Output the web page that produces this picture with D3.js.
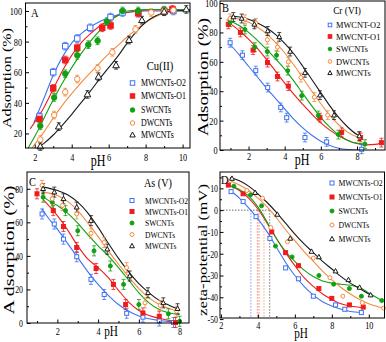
<!DOCTYPE html>
<html>
<head>
<meta charset="utf-8">
<script src="https://cdn.jsdelivr.net/npm/d3@7"></script>
<style>
  body { margin: 0; background: #fff; }
  svg { display: block; }
</style>
</head>
<body>
<script>
const W = 386, H = 342;

const seriesNames = ["MWCNTs-O2", "MWCNTs-O1", "SWCNTs", "DWCNTs", "MWCNTs"];
const seriesNamesCr = ["MWCNT-O2", "MWCNT-O1", "SWCNTs", "DWCNTs", "MWCNTs"];
const colors = ["#3f72f2", "#ef1c1c", "#12a012", "#f58a3f", "#1a1a1a"];
const shapes = ["squareOpen", "squareFill", "circleFill", "circleOpen", "triangle"];

// A: Cu(II) adsorption, [pH, %]
const cuPoints = [
  [[2.25,31],[3.0,60],[3.65,77],[4.3,82],[5.0,89],[6.1,96],[6.75,99],[7.6,99],[9.0,100],[9.5,100]],
  [[2.25,29.5],[3.0,49.5],[3.65,68],[4.3,76],[5.65,89],[6.1,90.5],[7.6,98.5],[9.0,100],[9.45,101]],
  [[2.3,25],[3.05,43.5],[3.65,59],[4.3,71],[4.9,78],[5.4,80.5],[5.9,93],[6.75,100],[7.6,100],[9.0,100.5]],
  [[2.3,16],[3.05,32],[3.65,47],[4.3,55.5],[5.4,62.5],[6.2,73],[7.45,88],[8.3,99],[9.0,100],[9.5,100.5]],
  [[2.3,11.5],[3.3,24.5],[4.85,45.5],[5.45,57],[6.4,64.5],[7.1,81],[7.8,94],[9.0,99.5],[10.2,101]]
];
const cuFits = [
  [[1.95,27],[2.5,43],[3,58],[3.5,70],[4,79],[4.5,85],[5,89.5],[5.5,93],[6,95.5],[6.5,97.5],[7,99],[8,100],[10.4,100]],
  [[1.75,23],[2.5,37],[3,49],[3.5,61],[4,71],[4.5,79],[5,85],[5.5,90],[6,94],[6.5,97],[7,99],[8,100.5],[10.4,101]],
  [[1.64,10.5],[2,18],[2.5,30],[3,42],[3.5,53],[4,63],[4.5,72],[5,80],[5.5,87],[6,93],[6.5,97],[7,100],[8,101],[10.4,101]],
  [[1.85,10.5],[2.5,21],[3,30],[3.5,38.5],[4,46],[4.5,53],[5,59.5],[5.5,66],[6,72],[6.5,77.5],[7,83],[7.5,88],[8,92.5],[8.5,96],[9,98.5],[9.5,100],[10.4,100.5]],
  [[2.15,10.5],[2.5,13.5],[3,19],[3.5,25.5],[4,32.5],[4.5,40],[5,47.5],[5.5,55.5],[6,63],[6.5,70.5],[7,79],[7.5,86.5],[8,92.5],[8.5,96.5],[9,99],[9.5,100],[10.4,100.5]]
];

// B: Cr(VI) adsorption
const crPoints = [
  [[0.98,73],[1.66,64.5],[2.4,54],[3.06,42.5],[3.78,29],[4.11,22],[5.12,8.5],[6.32,5.5],[8.26,0.5]],
  [[0.88,85.5],[1.55,80],[2.25,68],[3.05,59.5],[3.6,50],[4.2,43.5],[5.95,22],[7.15,12],[8.2,8.5],[9.35,5]],
  [[0.98,87],[1.8,82],[2.35,70],[3.04,67],[3.55,64.5],[4.17,54],[4.94,37],[5.86,23.5],[6.97,10.5],[8.44,4]],
  [[0.98,89.5],[1.8,89],[2.4,86.5],[3.04,75],[3.6,70],[4.2,60],[4.9,49.3],[5.64,36],[6.38,23.7],[8.13,9]],
  [[1.16,90.5],[1.62,89.5],[2.32,85.5],[3.06,81],[3.7,77],[4.3,67],[5.12,52.5],[5.95,37.3],[6.73,23.7],[8.13,9.5]]
];
const crFits = [
  [[0.9,73],[1.5,64.5],[2,57],[2.5,49.5],[3,42],[3.5,35],[4,28],[4.5,21],[5,15],[5.5,10],[6,6],[6.5,3],[7,1.2],[7.5,0.3],[8,0],[8.4,0]],
  [[0.88,87],[1.5,81],[2,75.5],[2.5,69],[3,61.5],[3.5,53.5],[4,45.5],[4.5,38],[5,31],[5.5,24.5],[6,18.5],[6.5,13.5],[7,9.5],[7.5,6.5],[8,4.5],[8.5,3.5],[9,3.8],[9.3,4.5]],
  [[0.98,88],[1.5,84.5],[2,80],[2.5,74.5],[3,68.5],[3.5,62],[4,55],[4.5,47],[5,38.5],[5.5,30],[6,22],[6.5,15.5],[7,10],[7.5,6.5],[8,4.5],[8.5,3.8]],
  [[0.9,90.5],[1.5,89],[2,87],[2.5,83.5],[3,79],[3.5,73],[4,66],[4.5,58],[5,49],[5.5,40],[6,31.5],[6.5,23.5],[7,17],[7.5,12],[8,9],[8.2,8.5]],
  [[1.0,91],[1.5,90.5],[2,89],[2.5,86.5],[3,83],[3.5,78.5],[4,72.5],[4.5,65.5],[5,57],[5.5,48],[6,39],[6.5,30],[7,22],[7.5,15.5],[8,10.5],[8.15,9.5]]
];

// C: As(V) adsorption
const asPoints = [
  [[1.25,65],[1.85,59],[2.3,50],[2.95,39.5],[3.65,26],[4.3,17],[5.4,5.8],[6.2,3.5],[7.0,1.2],[7.7,0.3]],
  [[1.0,77],[1.8,67],[2.3,57.5],[2.95,45],[3.9,32.5],[4.75,23],[5.35,11],[6.2,6],[7.0,4],[7.8,0.3]],
  [[1.3,75],[1.75,72],[2.4,67],[3.0,55],[3.8,43],[4.6,34],[5.25,23],[6.0,11],[7.45,5.5],[8.0,1]],
  [[1.25,82],[1.75,74],[2.25,70],[2.95,65],[3.65,53.5],[4.3,48],[5.4,33],[6.3,12],[7.05,10.5],[7.85,7]],
  [[1.3,80],[1.85,78],[2.3,74],[2.95,69],[3.65,61],[4.45,44],[5.55,28],[6.45,18],[7.2,12],[7.9,8.5]]
];
const asFits = [
  [[1.25,68],[1.5,63.5],[2,56],[2.5,47.5],[3,39],[3.5,30.5],[4,23],[4.5,16.5],[5,11],[5.5,7],[6,4.2],[6.5,2.5],[7,1.5],[7.5,0.8],[7.8,0.5]],
  [[1.3,73.5],[1.5,71],[2,64],[2.5,55.5],[3,46],[3.5,38],[4,33],[4.5,27],[5,19.5],[5.5,12.5],[6,7.5],[6.5,4.5],[7,2.8],[7.5,1.5],[7.9,0.8]],
  [[1.3,75.5],[1.5,73.5],[2,70],[2.5,65.5],[3,59.5],[3.5,52.5],[4,46],[4.5,40],[5,33],[5.5,25.5],[6,18],[6.5,12],[7,8],[7.5,6],[8,5]],
  [[1.3,78],[2,76],[2.5,72.5],[3,67],[3.5,59.5],[4,51.5],[4.5,43],[5,35],[5.5,27.5],[6,20.5],[6.5,15],[7,11],[7.5,8.5],[7.9,7]],
  [[1.3,81],[2,79],[2.5,76.5],[3,72],[3.5,65.5],[4,57],[4.5,47.5],[5,38.5],[5.5,30.5],[6,23.5],[6.5,18],[7,13.5],[7.5,10.5],[7.9,8.5]]
];

// D: zeta potential, [pH, mV]
const zetaPoints = [
  [[2.55,8.5],[3.2,4],[3.9,-3],[4.65,-13],[5.5,-26.5],[6.2,-31.5],[7.0,-39.5],[8.2,-43.5],[8.7,-45.5],[9.6,-47]],
  [[2.4,11.5],[3.2,7.5],[4.75,-10],[5.5,-19.5],[6.2,-25.5],[7.3,-36],[8.0,-40.5],[8.95,-43.5],[9.7,-44.5]],
  [[2.7,11],[3.6,7],[4.2,2],[4.95,-16.5],[5.85,-21.5],[7.3,-30],[8.1,-34],[8.95,-36],[9.6,-39.5],[10.7,-41.5]],
  [[2.5,13.5],[3.4,9],[4.25,5.5],[4.7,-8],[5.6,-14.5],[7.0,-22],[7.9,-31],[8.6,-39.5],[9.65,-42.5],[10.8,-45]],
  [[2.6,14.5],[3.85,8],[5.05,-2],[5.75,-13],[6.9,-19],[7.3,-21.5],[8.2,-28],[8.9,-32],[9.5,-35.5],[10.1,-39]]
];
const zetaFits = [
  [[2.5,9],[3,5.5],[3.5,1],[4,-4],[4.5,-10],[5,-17],[5.5,-24],[6,-30],[6.5,-35],[7,-39],[7.5,-42],[8,-44],[8.5,-45.5],[9,-46.5],[9.6,-47]],
  [[2.4,11.5],[3,9],[3.5,5.5],[4,0.5],[4.5,-6],[5,-13],[5.5,-19.5],[6,-25.5],[6.5,-31],[7,-35],[7.5,-38.5],[8,-41],[8.5,-43],[9,-44],[9.7,-44.8]],
  [[2.6,11],[3,9.5],[3.5,6.5],[4,1.5],[4.5,-5.5],[5,-13],[5.5,-19],[6,-23.5],[6.5,-27.5],[7,-30.5],[7.5,-32.5],[8,-33.5],[8.5,-34],[9,-34.5],[9.5,-35.5],[10,-38],[10.7,-41.5]],
  [[2.5,13.5],[3,11.5],[3.5,9],[4,5.5],[4.5,1.5],[5,-3.5],[5.5,-9],[6,-14],[6.5,-19],[7,-23.5],[7.5,-28],[8,-32],[8.5,-35.5],[9,-38.5],[9.5,-41],[10,-43],[10.8,-45]],
  [[2.5,15],[3,13.5],[3.5,11],[4,7.5],[4.5,3.5],[5,-1],[5.5,-6],[6,-11],[6.5,-15.5],[7,-19.5],[7.5,-23.5],[8,-27],[8.5,-30.5],[9,-33.5],[9.5,-36],[10,-38.5],[10.2,-39.5]]
];
// isoelectric points (dotted guide lines)
const zetaIEP = [3.62, 3.97, 4.06, 4.33, 4.64];
const iepColors = ["#7f9cf3", "#f08a8a", "#f09070", "#f5a670", "#777"];

const FONT = "'Liberation Serif', 'Times New Roman', serif";

const svg = d3.select("body").append("svg")
    .attr("width", W)
    .attr("height", H)
    .style("font-family", FONT);

function txt(g, x, y, s, size, anchor, sx) {
    return g.append("text")
        .attr("transform", `translate(${x},${y}) scale(${sx},1)`)
        .attr("text-anchor", anchor)
        .style("font-size", size + "px")
        .text(s);
}

function vtxt(g, x, y, s, size, len) {
    return g.append("text")
        .attr("transform", `translate(${x},${y}) rotate(-90)`)
        .attr("text-anchor", "middle")
        .attr("textLength", len)
        .attr("lengthAdjust", "spacingAndGlyphs")
        .style("font-size", size + "px")
        .text(s);
}

function marker(g, shape, cx, cy, s, c) {
    if (shape === "squareOpen" || shape === "squareFill") {
        g.append("rect")
            .attr("x", cx - s / 2).attr("y", cy - s / 2)
            .attr("width", s).attr("height", s)
            .attr("fill", shape === "squareFill" ? c : "#fff")
            .attr("stroke", c).attr("stroke-width", 1);
    } else if (shape === "circleFill" || shape === "circleOpen") {
        g.append("circle")
            .attr("cx", cx).attr("cy", cy).attr("r", s / 2)
            .attr("fill", shape === "circleFill" ? c : "#fff")
            .attr("stroke", c).attr("stroke-width", 1);
    } else {
        const h = s * 1.1;
        g.append("path")
            .attr("d", `M${cx},${cy - h * 0.6}L${cx + h * 0.55},${cy + h * 0.4}L${cx - h * 0.55},${cy + h * 0.4}Z`)
            .attr("fill", "#fff")
            .attr("stroke", c).attr("stroke-width", 1);
    }
}

function drawPanel(p) {
    const [x0, x1, y0, y1] = p.box;
    const x = d3.scaleLinear().domain(p.xd).range([x0, x1]);
    const y = d3.scaleLinear().domain(p.yd).range([y1, y0]);
    const g = svg.append("g");

    g.append("clipPath").attr("id", "clip" + p.id)
        .append("rect")
        .attr("x", x0).attr("y", y0)
        .attr("width", x1 - x0).attr("height", y1 - y0);

    if (p.extra) p.extra(g, x, y);

    const line = d3.line()
        .x(d => x(d[0]))
        .y(d => y(d[1]))
        .curve(d3.curveMonotoneX);

    g.append("g")
        .attr("clip-path", `url(#clip${p.id})`)
        .selectAll("path")
        .data(p.fits)
        .join("path")
        .attr("d", line)
        .attr("fill", "none")
        .attr("stroke", (d, i) => colors[i])
        .attr("stroke-width", 1.1);

    // error bars
    if (p.err) {
        p.pts.forEach((s, i) => s.forEach(d => {
            const xx = x(d[0]), ya = y(d[1] - p.err), yb = y(d[1] + p.err);
            g.append("path")
                .attr("d", `M${xx},${ya}V${yb}M${xx - 2},${ya}H${xx + 2}M${xx - 2},${yb}H${xx + 2}`)
                .attr("stroke", colors[i]).attr("stroke-width", 0.8).attr("fill", "none");
        }));
    }

    p.pts.forEach((s, i) => s.forEach(d => marker(g, shapes[i], x(d[0]), y(d[1]), p.ms, colors[i])));

    // frame
    g.append("rect")
        .attr("x", x0).attr("y", y0)
        .attr("width", x1 - x0).attr("height", y1 - y0)
        .attr("fill", "none").attr("stroke", "#000").attr("stroke-width", 1);

    // x axis
    const xa = g.append("g")
        .attr("transform", `translate(0,${y1})`)
        .call(d3.axisBottom(x).tickValues(p.xt).tickSize(-3.5).tickFormat(d => String(d)));
    xa.select(".domain").remove();
    xa.attr("font-family", null).attr("font-size", null);
    xa.selectAll("text")
        .attr("y", p.xBase).attr("dy", null)
        .attr("transform", "scale(0.75,1)")
        .attr("fill", "#000")
        .style("font-size", p.xFont + "px");
    const xm = g.append("g")
        .attr("transform", `translate(0,${y1})`)
        .call(d3.axisBottom(x).tickValues(p.xm).tickSize(-2).tickFormat(""));
    xm.select(".domain").remove();

    // y axis
    const ya = g.append("g")
        .attr("transform", `translate(${x0},0)`)
        .call(d3.axisLeft(y).tickValues(p.yt).tickSize(-3.5).tickFormat(d => String(d)));
    ya.select(".domain").remove();
    ya.attr("font-family", null).attr("font-size", null);
    ya.selectAll("text")
        .attr("x", -p.yPad / 0.75)
        .attr("transform", "scale(0.75,1)")
        .attr("fill", "#000")
        .style("font-size", p.yFont + "px");
    const ym = g.append("g")
        .attr("transform", `translate(${x0},0)`)
        .call(d3.axisLeft(y).tickValues(p.ym).tickSize(-2).tickFormat(""));
    ym.select(".domain").remove();

    // texts
    txt(g, p.letter[0], p.letter[1], p.id, 13, "start", 0.8);
    txt(g, p.ph[0], p.ph[1], "pH", p.ph[2], "middle", 0.75);
    vtxt(g, p.ylab[0], p.ylab[1], p.ylab[4], p.ylab[2], p.ylab[3]);
    if (p.title) txt(g, p.title[0], p.title[1], p.title[3], p.title[2], "middle", 0.85);

    // legend
    const L = p.legend;
    L.ys.forEach((ly, i) => {
        marker(g, shapes[i], L.mx, ly, L.ms, colors[i]);
        txt(g, L.tx, ly + 3.2, L.names[i], L.fs, "start", L.sx);
    });
}

drawPanel({
    id: "A", box: [25.5, 190, 3, 148], xd: [1.5, 10.4], yd: [10.5, 105.2],
    xt: [2, 4, 6, 8, 10], xm: [3, 5, 7, 9], yt: [20, 40, 60, 80, 100], ym: [30, 50, 70, 90],
    pts: cuPoints, fits: cuFits, err: 2.5, ms: 5.5,
    xBase: 13, xFont: 11, yPad: 3.5, yFont: 11,
    letter: [31, 17], ph: [98, 166, 16], ylab: [10.5, 78, 12, 100, "Adsorption (%)"],
    title: [160, 70, 12.5, "Cu(II)"],
    legend: { ys: [83, 96, 110, 123, 135], mx: 132.5, tx: 141, fs: 9.5, sx: 0.83, ms: 4.5, names: seriesNames }
});

drawPanel({
    id: "B", box: [220, 385, 1, 150], xd: [0.42, 9.55], yd: [0, 101.4],
    xt: [2, 4, 6, 8], xm: [1, 3, 5, 7, 9], yt: [0, 20, 40, 60, 80, 100], ym: [10, 30, 50, 70, 90],
    pts: crPoints, fits: crFits, err: 3, ms: 4,
    xBase: 10, xFont: 11, yPad: 2.5, yFont: 11,
    letter: [222, 12], ph: [302, 165, 16], ylab: [208, 77, 14, 118, "Adsorption (%)"],
    title: [347, 14, 11, "Cr (VI)"],
    legend: { ys: [25, 36.5, 49, 61.5, 73], mx: 330, tx: 336, fs: 9, sx: 0.93, ms: 3.6, names: seriesNamesCr }
});

drawPanel({
    id: "C", box: [27, 189, 172, 323], xd: [0.51, 8.46], yd: [0, 90],
    xt: [2, 4, 6, 8], xm: [1, 3, 5, 7], yt: [0, 20, 40, 60, 80], ym: [10, 30, 50, 70],
    pts: asPoints, fits: asFits, err: 3, ms: 4,
    xBase: 12, xFont: 11, yPad: 4, yFont: 10.5,
    letter: [29, 186], ph: [111, 336, 15], ylab: [14, 250, 14, 129, "A dsorption (%)"],
    title: [158, 187, 12, "As (V)"],
    legend: { ys: [200.5, 211.5, 223, 234.5, 246], mx: 132, tx: 145, fs: 9, sx: 0.84, ms: 4, names: seriesNames }
});

drawPanel({
    id: "D", box: [220, 384.5, 172, 318], xd: [1.95, 10.85], yd: [-49.5, 17.5],
    xt: [2, 4, 6, 8, 10], xm: [3, 5, 7, 9], yt: [10, 0, -10, -20, -30, -40, -50], ym: [15, 5, -5, -15, -25, -35, -45],
    pts: zetaPoints, fits: zetaFits, err: 0, ms: 4,
    xBase: 11.5, xFont: 11, yPad: 2, yFont: 10.5,
    letter: [221, 184], ph: [301, 338, 15], ylab: [207, 250, 13, 132, "zeta-potential (mV)"],
    title: null,
    legend: { ys: [183, 197, 211, 225, 239], mx: 332, tx: 338.5, fs: 9, sx: 0.86, ms: 4, names: seriesNames },
    extra: (g, x, y) => {
        zetaIEP.forEach((v, i) => {
            g.append("line")
                .attr("x1", x(v)).attr("x2", x(v))
                .attr("y1", y(0)).attr("y2", y(-49.5))
                .attr("stroke", iepColors[i]).attr("stroke-width", 1)
                .attr("stroke-dasharray", "1.5,1.5");
        });
        g.append("line")
            .attr("x1", x(1.95)).attr("x2", x(zetaIEP[4]))
            .attr("y1", y(0)).attr("y2", y(0))
            .attr("stroke", "#666").attr("stroke-width", 1)
            .attr("stroke-dasharray", "1.5,1.5");
    }
});
</script>
</body>
</html>
